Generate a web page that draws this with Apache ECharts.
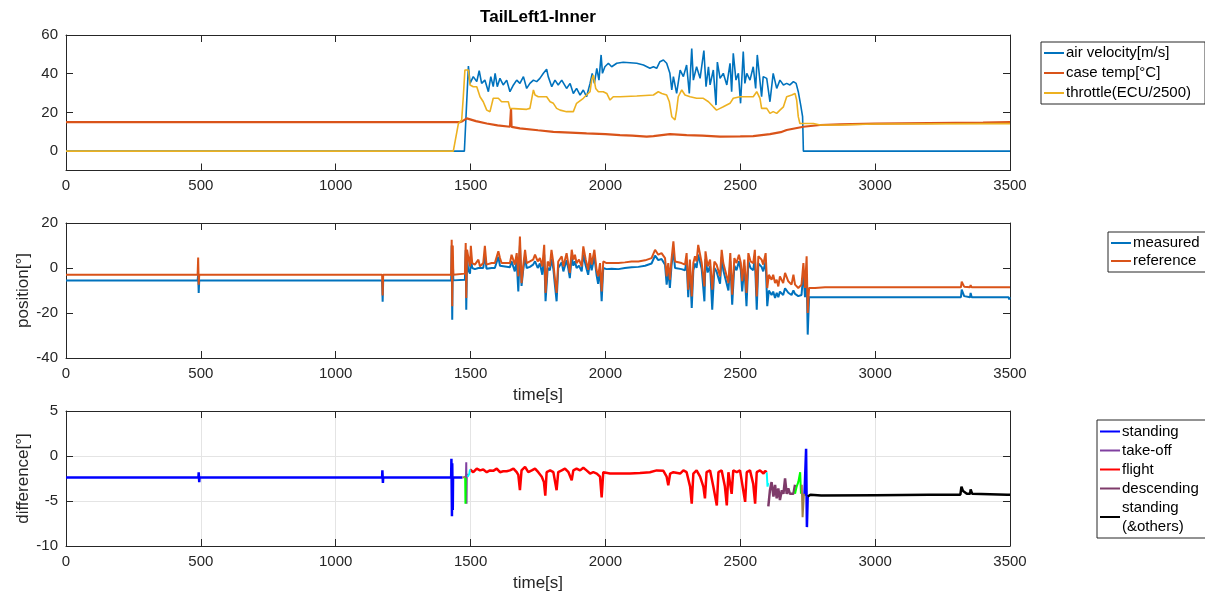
<!DOCTYPE html>
<html>
<head>
<meta charset="utf-8">
<script src="https://cdn.jsdelivr.net/npm/echarts@6.0.0/dist/echarts.min.js"></script>
<style>
  html, body { margin: 0; background: #fff; }
  #chart { width: 1205px; height: 594px; }
</style>
</head>
<body>
<div id="chart"></div>
<script>
// ---- data: [time s, value] ----
const timeTicks = [0, 500, 1000, 1500, 2000, 2500, 3000, 3500]
const velocityTicks = [0, 20, 40, 60]

const airVelocity = [[0,0],[1477,0],[1492,44],[1498,35],[1510,38.5],[1523,35.9],[1532,41.6],[1541,35],[1553,36.7],[1566,30.7],[1575,38.5],[1584,33.3],[1591,40.2],[1599,33.3],[1609,37.6],[1621,34.2],[1634,36.7],[1646,30.7],[1659,34.2],[1671,36.7],[1683,35],[1696,38.5],[1708,32.4],[1720,35],[1733,36.7],[1745,35.9],[1757,37.6],[1770,40.2],[1782,42.3],[1788,38.5],[1801,33.3],[1813,36.7],[1825,34.2],[1838,36.7],[1856,32.4],[1869,35],[1881,29.8],[1893,32.4],[1906,29],[1918,31.6],[1930,28.1],[1943,35],[1951,40.2],[1959,35],[1968,42.8],[1976,36.7],[1984,49.7],[1989,40.2],[1998,43.6],[2011,45.4],[2023,43.6],[2042,45.4],[2066,45.9],[2091,45.7],[2116,45.4],[2141,44.5],[2165,42.8],[2178,43.6],[2190,42.8],[2202,46.2],[2215,47.1],[2227,45.4],[2239,40.2],[2246,31.6],[2252,38.5],[2264,29.8],[2277,41.9],[2289,38.5],[2301,44.5],[2311,29.8],[2320,53],[2326,36.7],[2338,43.6],[2351,37.6],[2365,52],[2373,33.3],[2382,43.6],[2388,34.2],[2400,41.9],[2410,23.8],[2415,46],[2425,37.6],[2437,40.2],[2450,34.2],[2462,45.4],[2468,30.7],[2474,50.5],[2484,36.7],[2493,40.2],[2501,24.7],[2511,51.4],[2517,35],[2524,40.2],[2536,36.7],[2548,43.6],[2557,32.4],[2563,49.7],[2579,28.1],[2585,38.5],[2598,37.6],[2610,25.5],[2622,40.2],[2635,32.4],[2647,36.7],[2660,34.2],[2672,35],[2684,34.2],[2697,35.9],[2707,35],[2715,30.7],[2724,23.8],[2731,17.8],[2734,0],[3500,0]]

const caseTemp = [[0,15],[1460,15],[1470,15.5],[1486,16.9],[1520,15.5],[1560,14.3],[1600,13.3],[1646,12.6],[1649,12.6],[1650,22],[1652,12.5],[1683,11.8],[1750,10.8],[1807,10],[1870,9.6],[1930,9.2],[2000,8.8],[2054,8.3],[2100,8],[2153,7.5],[2178,7.8],[2239,8.8],[2301,8.3],[2360,8],[2425,7.5],[2500,7.6],[2548,7.8],[2610,8.8],[2650,9.8],[2672,10.9],[2734,12.6],[2796,13.5],[2870,13.8],[3000,14.2],[3200,14.5],[3400,14.8],[3500,15]]

const throttle = [[0,0],[1436,0],[1455,14.3],[1467,16],[1473,28],[1479,41.9],[1492,41.9],[1498,34.2],[1510,33.3],[1523,33.3],[1535,28.1],[1547,25.5],[1560,21.2],[1572,20.4],[1584,27.3],[1603,27.3],[1615,25.5],[1640,25.5],[1646,22.1],[1652,21.6],[1708,21.6],[1720,22.1],[1733,31.6],[1739,29],[1751,28.1],[1782,28.1],[1795,25.5],[1807,24.7],[1819,22.1],[1832,21.2],[1856,20.4],[1881,20.4],[1893,24.7],[1918,27.3],[1930,29],[1943,30.7],[1949,36.7],[1955,39.3],[1964,32.4],[1974,30.7],[1980,31.6],[1992,30.7],[2005,29.8],[2017,26.4],[2029,28.1],[2054,28.1],[2116,28.5],[2178,29],[2196,30.7],[2209,29.8],[2227,29],[2237,25.5],[2246,17.8],[2258,16.1],[2264,21.2],[2270,28.1],[2283,31.6],[2295,29],[2314,28.1],[2338,27.3],[2363,27.3],[2382,25.5],[2400,22.9],[2412,21.2],[2425,22.1],[2437,22.9],[2462,24.7],[2474,27.3],[2499,28.1],[2548,28.1],[2561,30.7],[2573,27.3],[2579,22.1],[2598,22.1],[2610,19.5],[2622,20.4],[2635,19.5],[2647,21.2],[2660,22.9],[2672,28.1],[2691,29],[2703,29.8],[2709,26.4],[2715,17.8],[2721,14.3],[2728,15.2],[2771,14.3],[2796,13.5],[2870,13.5],[3000,14],[3500,14.2]]

const posMeasured = [[0,-5.5],[488,-5.5],[490,-3],[492,-11.1],[494,-5.5],[1172,-5.5],[1174,-15],[1176,-5.5],[1428,-5.5],[1430,10],[1432,-23],[1434,5],[1436,-5.5],[1479,-5.2],[1482,8],[1484,-18.5],[1487,5],[1491,-0.8],[1498,-2.5],[1501,5],[1506,0],[1516,-0.5],[1529,0],[1547,0],[1553,6],[1559,-0.3],[1578,0],[1590,0],[1603,5],[1609,1],[1615,0.3],[1646,0.3],[1652,3],[1664,-1.5],[1671,3],[1677,-10.4],[1683,10],[1689,-8],[1695,-1],[1702,5],[1708,0],[1720,0.5],[1732,1.5],[1739,3],[1749,0],[1757,2],[1766,-3],[1773,6],[1778,-14.8],[1786,0],[1794,-1],[1800,4],[1807,-0.5],[1813,-8],[1819,-14.8],[1825,0],[1838,2.5],[1844,-1.5],[1856,3.5],[1862,0],[1868,-4.5],[1875,5],[1881,1],[1887,3],[1893,0],[1902,1],[1912,-1.5],[1918,6],[1927,1],[1936,-3],[1943,3],[1949,-1],[1959,5],[1967,-3],[1973,-7],[1980,-0.5],[1986,-14.8],[1992,0],[2004,-0.5],[2023,-0.3],[2048,-0.5],[2072,0],[2097,0.3],[2122,0.5],[2147,1],[2171,2],[2184,5.5],[2196,3.5],[2208,4],[2221,1.5],[2227,-7.4],[2233,-1],[2239,-8.9],[2245,1],[2252,8],[2258,0],[2282,-0.5],[2295,-1],[2301,3],[2307,-13],[2313,1],[2320,-17.8],[2326,-1],[2332,2],[2338,0],[2344,6],[2357,-0.5],[2367,-14.8],[2371,4],[2379,-2],[2388,1],[2396,-18.5],[2404,0],[2412,-1.5],[2425,-7],[2431,5],[2437,-1],[2443,-1],[2456,-10],[2463,3],[2470,-16.3],[2478,1],[2486,-1],[2495,3],[2502,-1],[2507,-10.4],[2515,1],[2523,-17],[2530,3],[2538,0],[2548,-1],[2554,5],[2561,-18.5],[2567,2],[2579,0.5],[2585,-1.5],[2594,3],[2600,-17],[2606,-10],[2616,-12],[2622,-10.5],[2629,-13.3],[2635,-11],[2641,-13],[2647,-10.5],[2659,-12],[2666,-9],[2678,-11],[2690,-12],[2697,-10],[2703,-11.5],[2715,-12.5],[2727,-12],[2734,-2],[2740,-13],[2746,-3],[2750,-29.6],[2755,-13],[2777,-13],[2814,-13],[3318,-13],[3321,-9.6],[3330,-12.5],[3352,-13],[3354,-11.1],[3358,-13],[3495,-13],[3497,-14],[3500,-13]]

const posReference = [[0,-3],[488,-3],[490,4.7],[492,-7.4],[494,-3],[1172,-3],[1174,-12.2],[1176,-3],[1428,-3],[1430,12.6],[1432,-17],[1434,10],[1436,-3],[1479,-2.5],[1482,11.1],[1484,-13.3],[1487,8.1],[1491,5.2],[1498,0.7],[1501,9.9],[1506,2.2],[1516,1.5],[1529,3.7],[1535,0.7],[1547,2.2],[1553,9.9],[1559,1.5],[1578,2.2],[1590,2.2],[1603,7.4],[1609,4.4],[1615,2.2],[1646,2.2],[1652,5.9],[1658,3.7],[1664,1.5],[1671,6.6],[1677,-3.7],[1683,14],[1689,-6.7],[1695,0.7],[1702,8.1],[1708,2.2],[1720,2.9],[1732,3.7],[1739,5.9],[1749,2.9],[1757,4.4],[1766,0.7],[1773,10.3],[1778,-11.1],[1786,2.9],[1794,0.7],[1800,8.1],[1807,2.2],[1813,-5.2],[1819,-11.1],[1825,2.9],[1838,5.2],[1844,0.7],[1856,6.6],[1862,2.2],[1868,-2.2],[1875,8.1],[1881,3.7],[1887,5.9],[1893,2.2],[1902,3.7],[1912,0.7],[1918,9.6],[1927,3.7],[1936,-0.8],[1943,6.6],[1949,1.5],[1959,8.1],[1967,-0.8],[1973,-3.7],[1980,2.2],[1986,-10.4],[1992,2.9],[2004,2.2],[2023,2.2],[2048,2.2],[2072,2.5],[2097,2.9],[2122,2.9],[2147,3.4],[2171,4.4],[2184,8.1],[2196,5.9],[2208,6.6],[2221,4.4],[2227,-3.7],[2233,2.2],[2239,-5.2],[2245,3.7],[2252,11.8],[2258,2.9],[2282,2.2],[2295,1.5],[2301,6.6],[2307,-9.6],[2313,3.7],[2320,-12.6],[2326,2.2],[2332,5.2],[2338,2.9],[2344,10.3],[2357,2.2],[2367,-8.2],[2371,7.4],[2379,0.7],[2388,3.7],[2396,-9.6],[2404,2.9],[2412,1.5],[2425,-3.7],[2431,8.1],[2437,2.2],[2443,2.2],[2456,-6.7],[2463,6.6],[2470,-11.9],[2478,4.4],[2486,2.2],[2495,5.9],[2502,2.2],[2507,-5.9],[2515,3.7],[2523,-11.1],[2530,6.6],[2538,2.9],[2548,2.2],[2554,8.1],[2561,-12.6],[2567,5.2],[2579,3.7],[2585,1.5],[2594,6.6],[2600,-8.9],[2606,-3],[2616,-5.2],[2622,-3],[2629,-6.7],[2635,-5.2],[2641,-8.2],[2647,-3.7],[2659,-6.7],[2666,-2.2],[2678,-5.9],[2690,-7.4],[2697,-3],[2703,-7.4],[2715,-8.9],[2727,-7.4],[2734,2.2],[2740,-8.9],[2746,5.2],[2750,-20],[2755,-8.9],[2777,-8.9],[2814,-8.6],[3318,-8.6],[3321,-6.1],[3330,-8.3],[3352,-8.6],[3354,-7.6],[3358,-8.6],[3500,-8.6]]

// difference per flight phase
const diffStanding = [[0,-2.4],[491,-2.4],[492,-1.8],[494,-2.9],[495,-2.4],[1172,-2.4],[1173,-1.6],[1175,-3],[1176,-2.4],[1428,-2.4],[1429,-0.3],[1431,-6.7],[1432,-0.8],[1434,-6],[1435,-2.4],[1470,-2.4]]
const diffStandingLate = [[2738,-4.4],[2744,0.8],[2747,-7.9],[2750,-4.5]]
const diffTakeOff = [[1483,-2.5],[1484,-0.7],[1485,-5.3],[1486,-2],[1489,-2.3]]
const diffFlight = [[1498,-1.5],[1510,-1.8],[1523,-1.4],[1535,-1.6],[1547,-1.5],[1560,-1.8],[1572,-1.6],[1584,-1.65],[1597,-1.4],[1609,-1.8],[1621,-1.7],[1634,-1.7],[1646,-1.6],[1659,-1.4],[1671,-1.8],[1677,-2.1],[1683,-3.8],[1689,-1.6],[1702,-1.2],[1714,-1.8],[1727,-1.6],[1739,-1.4],[1751,-1.8],[1764,-2.3],[1772,-2.9],[1777,-4.4],[1782,-1.8],[1795,-1.6],[1807,-1.8],[1819,-3.8],[1825,-1.8],[1838,-1.6],[1850,-1.4],[1863,-1.8],[1875,-2.7],[1881,-1.6],[1893,-1.4],[1906,-1.6],[1918,-1.3],[1930,-1.6],[1943,-1.95],[1955,-1.8],[1968,-1.95],[1980,-2.3],[1986,-4.6],[1992,-1.8],[2017,-1.95],[2054,-1.95],[2091,-1.95],[2128,-1.9],[2165,-1.8],[2190,-1.6],[2215,-1.65],[2227,-2.3],[2233,-3.25],[2240,-1.95],[2252,-1.8],[2277,-1.95],[2289,-1.6],[2301,-1.8],[2314,-3.4],[2320,-5.3],[2326,-1.95],[2338,-1.6],[2351,-2.3],[2363,-3.4],[2369,-4.7],[2375,-1.8],[2388,-1.6],[2400,-3.4],[2413,-5.5],[2419,-1.8],[2431,-1.6],[2443,-3.4],[2450,-5.5],[2456,-1.8],[2468,-4.2],[2474,-1.6],[2487,-1.8],[2499,-1.6],[2511,-3.8],[2518,-5.1],[2524,-1.8],[2536,-1.6],[2548,-3.1],[2555,-5.3],[2561,-1.8],[2573,-1.6],[2586,-1.95],[2592,-1.65],[2598,-1.8]]
const diffDescending = [[2604,-5.6],[2610,-3.8],[2616,-2.9],[2623,-4.5],[2629,-3.2],[2635,-4.7],[2641,-3.6],[2647,-4.9],[2654,-3.8],[2660,-4.2],[2666,-2.5],[2672,-4.2],[2678,-3.6],[2684,-4.2],[2691,-4],[2697,-4.2],[2703,-3.2]]
const diffOthers = [[2750,-4.5],[2760,-4.3],[2800,-4.4],[3000,-4.35],[3200,-4.3],[3316,-4.3],[3320,-3.4],[3326,-3.9],[3340,-4.2],[3352,-4.2],[3354,-3.7],[3360,-4.2],[3490,-4.3],[3496,-4.4],[3500,-4.3]]
// short unlabelled transition phases
const diffGreenUp = [[1480,-2.4],[1481,-5.3],[1482,-2.5]]
const diffGreenDown = [[2703,-4.2],[2709,-3.4],[2715,-2.9],[2722,-1.8],[2725,-4.2]]
const diffCyanUp = [[1489,-2.3],[1495,-2],[1498,-1.5]]
const diffCyanDown = [[2598,-1.8],[2601,-3.4],[2604,-3]]
const diffBrownUp = [[1470,-2.4],[1480,-2.3]]
const diffBrownDown = [[2728,-3.2],[2731,-6.8],[2736,-4.2]]

const FONT = '"Liberation Sans", Helvetica, Arial, sans-serif'
const INK = '#262626'
const grids = [
  { left: 66, top: 35, width: 944, height: 135.5 },
  { left: 66, top: 223, width: 944, height: 135 },
  { left: 66, top: 411, width: 944, height: 135 }
]

const plain = v => String(v)

function xAxes (g, name, gridLines) {
  const base = {
    type: 'value', gridIndex: g, min: timeTicks[0], max: timeTicks[timeTicks.length - 1], interval: 500,
    axisLine: { show: true, onZero: false, lineStyle: { color: INK } },
    axisTick: { show: true, inside: true, length: 7, lineStyle: { color: INK } }
  }
  return [
    Object.assign({}, base, {
      position: 'bottom',
      axisLabel: { color: INK, fontSize: 15, margin: 8, fontFamily: FONT, formatter: plain },
      splitLine: { show: gridLines, lineStyle: { color: '#e4e4e4' } },
      name: name, nameLocation: 'middle', nameGap: 29, nameMoveOverlap: false,
      nameTextStyle: { color: INK, fontSize: 17, fontFamily: FONT }
    }),
    Object.assign({}, base, { position: 'top', axisLabel: { show: false }, splitLine: { show: false } })
  ]
}

function yAxes (g, min, max, interval, name, gridLines, custom) {
  const tick = { show: true, inside: true, length: 7, lineStyle: { color: INK } }
  if (custom) tick.customValues = custom
  const base = {
    type: 'value', gridIndex: g, min: min, max: max,
    axisLine: { show: true, onZero: false, lineStyle: { color: INK } },
    axisTick: tick
  }
  if (interval) base.interval = interval
  const label = { color: INK, fontSize: 15, margin: 8, fontFamily: FONT, formatter: plain }
  if (custom) label.customValues = custom
  return [
    Object.assign({}, base, {
      position: 'left', axisLabel: label,
      splitLine: { show: gridLines, lineStyle: { color: '#e4e4e4' } },
      name: name, nameLocation: 'middle', nameGap: 34, nameMoveOverlap: false,
      nameTextStyle: { color: INK, fontSize: 17, fontFamily: FONT }
    }),
    Object.assign({}, base, { position: 'right', axisLabel: { show: false }, splitLine: { show: false } })
  ]
}

function line (name, data, color, g, width) {
  return {
    name: name, type: 'line', data: data, xAxisIndex: g * 2, yAxisIndex: g * 2,
    showSymbol: false, symbol: 'none', silent: true,
    lineStyle: { color: color, width: width || 1.6 }, itemStyle: { color: color }
  }
}

function legend (left, top, names, lh, gap) {
  return {
    orient: 'vertical', left: left, top: top, data: names,
    icon: 'rect', itemWidth: 20, itemHeight: 2, itemGap: gap,
    borderColor: INK, borderWidth: 1, padding: [2, 14, 2, 3],
    selectedMode: false,
    textStyle: { color: '#000', fontSize: 15, lineHeight: lh, fontFamily: FONT, padding: [0, 0, 0, -3] }
  }
}

const chart = echarts.init(document.getElementById('chart'))
chart.setOption({
  animation: false,
  backgroundColor: '#fff',
  title: {
    text: 'TailLeft1-Inner', left: 538, top: 9, textAlign: 'center', padding: 0,
    textStyle: { color: '#000', fontSize: 17, fontWeight: 'bold', fontFamily: FONT }
  },
  grid: grids,
  legend: [
    legend(1041, 42, ['air velocity[m/s]', 'case temp[°C]', 'throttle(ECU/2500)'], 18, 2),
    legend(1108, 232, ['measured', 'reference'], 18, 0),
    legend(1097, 420, ['standing', 'take-off', 'flight', 'descending', 'standing\n(&others)'], 19, 0)
  ],
  xAxis: [].concat(xAxes(0, '', false), xAxes(1, 'time[s]', false), xAxes(2, 'time[s]', true)),
  yAxis: [].concat(
    yAxes(0, -10, 60, null, '', false, velocityTicks),
    yAxes(1, -40, 20, 20, 'position[°]', false),
    yAxes(2, -10, 5, 5, 'difference[°]', true)
  ),
  series: [
    line('air velocity[m/s]', airVelocity, '#0072BD', 0, 1.6),
    line('case temp[°C]', caseTemp, '#D95319', 0, 2.2),
    line('throttle(ECU/2500)', throttle, '#EDB120', 0, 1.6),
    line('measured', posMeasured, '#0072BD', 1, 2),
    line('reference', posReference, '#D95319', 1, 2),
    line('standing', diffStanding, '#0000FF', 2, 2.5),
    line('standing', diffStandingLate, '#0000FF', 2, 2.5),
    line('take-off', diffTakeOff, '#8040A0', 2, 2),
    line('flight', diffFlight, '#FF0000', 2, 2.5),
    line('descending', diffDescending, '#7E3B6A', 2, 2.5),
    line('standing\n(&others)', diffOthers, '#000000', 2, 2.5),
    line('phase-a', diffGreenUp, '#00FF00', 2, 2),
    line('phase-a2', diffGreenDown, '#00FF00', 2, 2),
    line('phase-b', diffCyanUp, '#00FFFF', 2, 2),
    line('phase-b2', diffCyanDown, '#00FFFF', 2, 2),
    line('phase-c', diffBrownUp, '#A0804A', 2, 2),
    line('phase-c2', diffBrownDown, '#A0804A', 2, 2)
  ]
})
</script>
</body>
</html>
